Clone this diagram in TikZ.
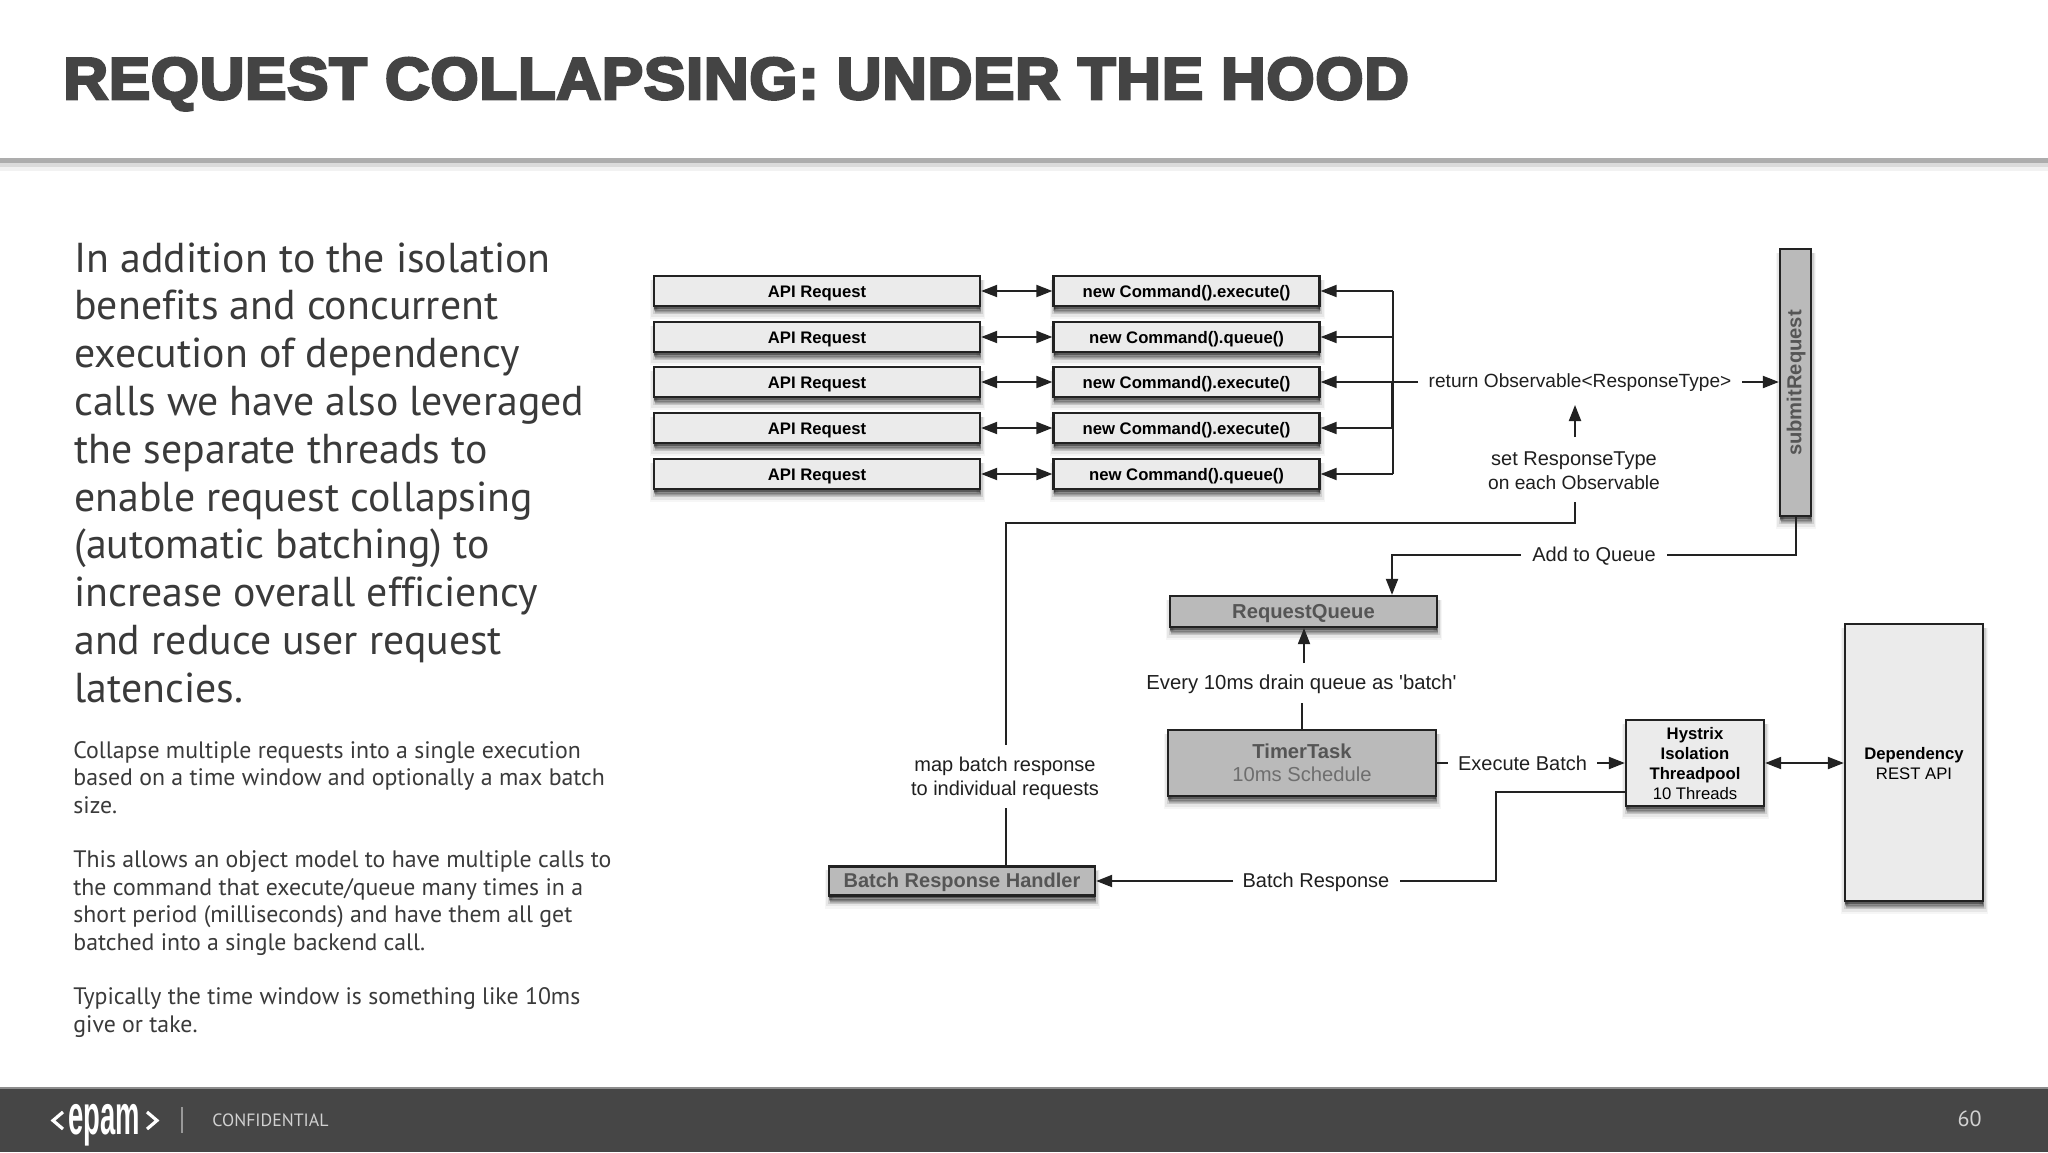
\documentclass[tikz,border=0pt]{standalone}
\usepackage{fontspec}
\setmainfont[Ligatures={NoCommon,NoRequired,TeX}]{PT Sans}
\newfontfamily\hel{Liberation Sans}
\newfontfamily\titlef[FakeBold=4.5,FakeStretch=1.05,LetterSpace=1.2]{Liberation Sans Bold}
\newfontfamily\logof[FakeStretch=0.49]{Liberation Sans Bold}
\usetikzlibrary{arrows.meta,shadows,fadings}
\definecolor{lightbox}{HTML}{EBEBEB}
\definecolor{darkbox}{HTML}{BABABA}
\definecolor{edge}{HTML}{222222}
\definecolor{foot}{HTML}{464646}
\definecolor{bodytxt}{HTML}{3A3A3A}
\definecolor{titletxt}{HTML}{444444}
\definecolor{greytxt}{HTML}{555555}
\newcommand{\dn}[1]{\raisebox{-3pt}[0pt][0pt]{#1}}
\newcommand{\dnb}[1]{\raisebox{-3.3pt}[0pt][0pt]{#1}}
\tikzset{
  x=0.5pt,y=-0.5pt,
  softz/.style={general shadow={fill=black,draw=black,line width=4.6pt,fill opacity=0.05,draw opacity=0.035,shadow xshift=0.3pt,shadow yshift=-4.2pt,path fading=none}},
  softa/.style={general shadow={fill=black,draw=black,line width=3.4pt,fill opacity=0.09,draw opacity=0.06,shadow xshift=0.3pt,shadow yshift=-3.6pt,path fading=none}},
  softb/.style={general shadow={fill=black,draw=black,line width=2pt,fill opacity=0.14,draw opacity=0.1,shadow xshift=0.3pt,shadow yshift=-3pt,path fading=none}},
  softc/.style={general shadow={fill=black,draw=black,line width=0.8pt,fill opacity=0.25,draw opacity=0.18,shadow xshift=0.2pt,shadow yshift=-2.2pt,path fading=none}},
  softd/.style={general shadow={fill=black,fill opacity=0.35,shadow xshift=0pt,shadow yshift=-1.4pt,path fading=none}},
  boxbase/.style={draw=edge,line width=1.15pt,rectangle,inner sep=0pt,align=center,font=\hel\fontsize{8.35}{10}\selectfont,softz,softa,softb,softc,softd},
  lightn/.style={boxbase,fill=lightbox,text=black},
  darkn/.style={boxbase,fill=darkbox,text=greytxt},
  lab/.style={font=\hel\fontsize{10}{12.2}\selectfont,align=center,text=black!88,inner sep=0pt},
  wire/.style={draw=edge,line width=1pt},
  head/.style={wire,-{Triangle[length=8pt,width=6pt]}},
  dbl/.style={wire,{Triangle[length=8pt,width=6pt]}-{Triangle[length=8pt,width=6pt]}},
  bigt/.style={anchor=north west,align=left,inner sep=0pt,text=bodytxt,font=\fontsize{20.9}{23.9}\selectfont},
  smallt/.style={anchor=north west,align=left,inner sep=0pt,text=bodytxt,font=\fontsize{11.9}{13.7}\selectfont},
}
\begin{document}
\begin{tikzpicture}
\useasboundingbox (0,0) rectangle (2048,1152);
\fill[white] (0,0) rectangle (2048,1152);
% header rule
\fill[black!5] (0,167) rectangle (2048,171);
\fill[black!14] (0,163) rectangle (2048,167);
\fill[black!32] (0,158) rectangle (2048,163);
\node[anchor=base west,inner sep=0pt,text=titletxt,font=\titlef\fontsize{29.5}{30}\selectfont] (title) at (63,99) {REQUEST COLLAPSING: UNDER THE HOOD};
% footer
\fill[foot] (0,1088) rectangle (2048,1152);
\fill[black!45] (0,1087) rectangle (2048,1088.5);
\node[anchor=base west,inner sep=0pt,text=white,font=\logof\fontsize{28}{28}\selectfont] (logo) at (68,1134) {epam};
\draw[white,line width=1.6pt] (63,1112) -- (53,1120.5) -- (63,1129);
\draw[white,line width=1.6pt] (147,1112) -- (157,1120.5) -- (147,1129);
\draw[white!45!foot,line width=0.7pt] (182,1107) -- (182,1133);
\node[anchor=base west,inner sep=0pt,text=white!75!foot,font=\fontsize{8.9}{10}\selectfont] (conf) at (212,1126) {CONFIDENTIAL};
\node[anchor=base east,inner sep=0pt,text=white!75!foot,font=\fontsize{11}{12}\selectfont] (pg) at (1982,1126) {60};
% left text
\node[bigt] (lead) at (74,242) {In addition to the isolation\\benefits and concurrent\\execution of dependency\\calls we have also leveraged\\the separate threads to\\enable request collapsing\\(automatic batching) to\\increase overall efficiency\\and reduce user request\\latencies.};
\node[smallt] (para) at (73,741) {Collapse multiple requests into a single execution\\based on a time window and optionally a max batch\\size.\\[13.7pt]This allows an object model to have multiple calls to\\the command that execute/queue many times in a\\short period (milliseconds) and have them all get\\batched into a single backend call.\\[13.7pt]Typically the time window is something like 10ms\\give or take.};
% API rows
\foreach \i/\yy/\cmd in {1/291/new Command().execute(),2/337/new Command().queue(),3/382/new Command().execute(),4/428/new Command().execute(),5/474/new Command().queue()}{
  \node[lightn,minimum width=163pt,minimum height=15pt] (api\i) at (817,\yy) {\dn{\textbf{API Request}}};
  \node[lightn,minimum width=133pt,minimum height=15pt] (cmd\i) at (1186.5,\yy) {\dn{\textbf{\cmd}}};
  \draw[dbl] (api\i.east) -- (cmd\i.west);
}
\coordinate (bus1) at (1393,291);
\coordinate (bus2) at (1393,337);
\coordinate (bus4) at (1392,428);
\coordinate (bus5) at (1393,474);
\coordinate (busr) at (1418,382);
\draw[head] (bus1) -- (cmd1.east);
\draw[head] (bus2) -- (cmd2.east);
\draw[head] (busr) -- (cmd3.east);
\draw[head] (bus4) -- (cmd4.east);
\draw[head] (bus5) -- (cmd5.east);
\draw[wire] (bus1) -- (bus5);
\draw[wire] (1392,382) -- (bus4);
% submit
\node[darkn,minimum width=15.5pt,minimum height=133.5pt] (submit) at (1795.5,382.5) {};
\node[rotate=90,inner sep=0pt,text=greytxt,font=\hel\bfseries\fontsize{10.1}{10}\selectfont] (submitl) at (1796,383) {submitRequest};
\node[lab,font=\hel\fontsize{9.55}{12}\selectfont] (ret) at (1580,382.5) {return Observable<ResponseType>};
\draw[head] (1742,382) -- (submit.west |- 0,382);
\node[lab] (setr) at (1574,471) {set ResponseType\\{\fontsize{9.6}{12}\selectfont on each Observable}};
\coordinate (setup) at (1575,437);
\coordinate (setdn) at (1575,405);
\draw[head] (setup) -- (setdn);
% queue
\node[darkn,minimum width=133.5pt,minimum height=15.5pt,font=\hel\bfseries\fontsize{10.1}{11}\selectfont] (queue) at (1303.5,611.5) {\dnb{RequestQueue}};
\node[lab] (addq) at (1594,556) {Add to Queue};
\draw[wire] (submit.south -| 1796,0) |- ([xshift=5.5pt]addq.east |- 0,555);
\draw[head] ([xshift=-5.5pt]addq.west |- 0,555) -| (queue.north -| 1392,0);
% timer
\node[darkn,minimum width=134pt,minimum height=33pt,font=\hel\fontsize{10.1}{11.6}\selectfont] (timer) at (1302,763) {\textbf{TimerTask}\\\textcolor{greytxt!85!white}{10ms Schedule}};
\node[lab,font=\hel\fontsize{10.15}{12}\selectfont] (every) at (1301.5,684.5) {Every 10ms drain queue as 'batch'};
\draw[wire] (timer.north) -- (1302,703);
\draw[head] (1304,663) -- (queue.south -| 1304,0);
% hystrix
\node[lightn,minimum width=69pt,minimum height=43pt] (hyst) at (1695,763) {\rule{0pt}{7pt}\textbf{Hystrix}\\\textbf{Isolation}\\\textbf{Threadpool}\\10 Threads};
\node[lightn,minimum width=69pt,minimum height=138.5pt] (dep) at (1914,762.5) {\rule{0pt}{7pt}\textbf{Dependency}\\REST API};
\node[lab] (exec) at (1522.5,763) {Execute Batch};
\draw[wire] (timer.east |- 0,763) -- (1448,763);
\draw[head] (1597,763) -- (hyst.west |- 0,763);
\draw[dbl] (hyst.east |- 0,763) -- (dep.west |- 0,763);
% handler
\node[darkn,minimum width=133pt,minimum height=14.5pt,font=\hel\bfseries\fontsize{10}{11}\selectfont] (handler) at (962,881) {\dnb{Batch Response Handler}};
\node[lab] (bresp) at (1316,882) {Batch Response};
\draw[wire] (hyst.west |- 0,792) -- (1495.5,792) -- (1495.5,881) -- (1400,881);
\draw[head] (1233,881) -- (handler.east);
\node[lab] (mapb) at (1005,778.5) {map batch response\\to individual requests};
\draw[wire] (1575,502) -- (1575,523) -- (1006,523) -- (1006,745);
\draw[wire] (1006,808) -- (handler.north -| 1006,0);
\end{tikzpicture}
\end{document}
